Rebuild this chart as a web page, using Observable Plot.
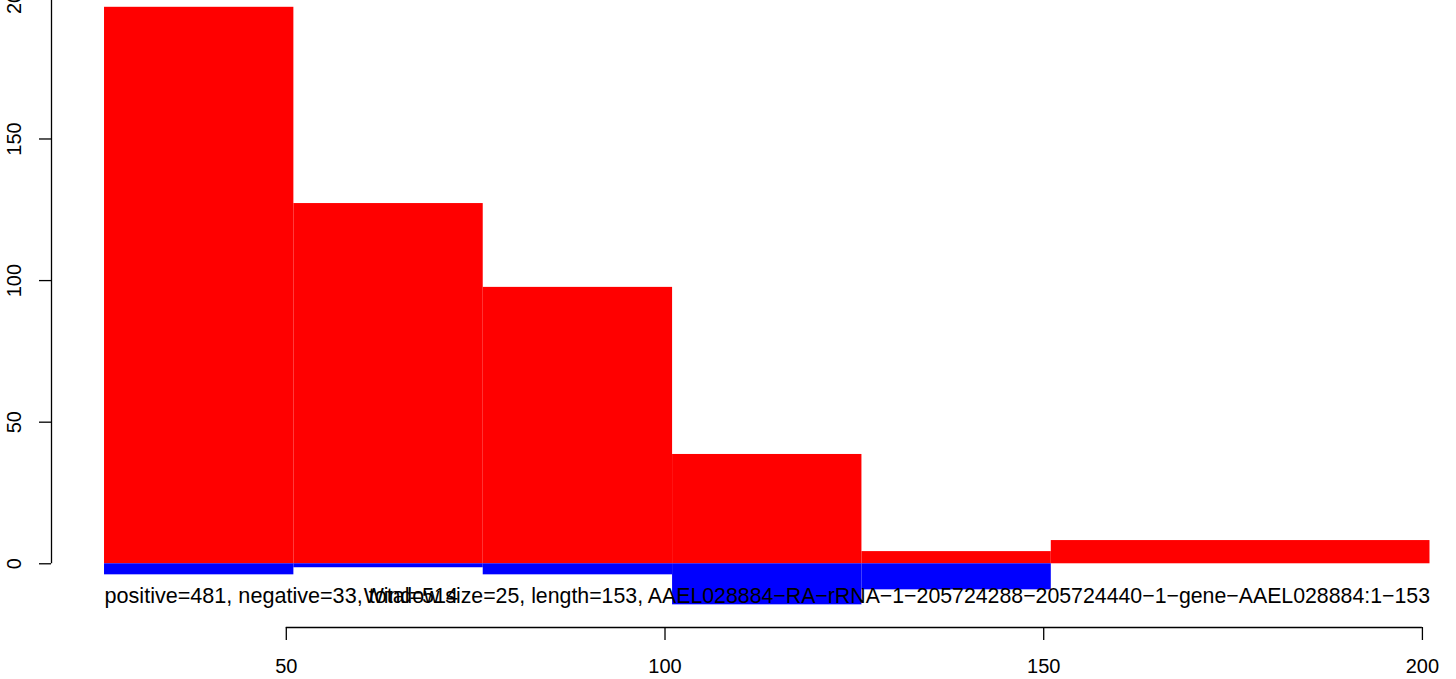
<!DOCTYPE html>
<html><head><meta charset="utf-8">
<script src="https://cdn.jsdelivr.net/npm/d3@7"></script>
<script src="https://cdn.jsdelivr.net/npm/@observablehq/plot@0.6"></script>
<style>
html,body{margin:0;padding:0;background:#fff;overflow:hidden}
#chart svg{overflow:visible;display:block}
</style></head><body><div id="chart"></div>
<script>
const binStart = [26, 51, 76, 101, 126, 151];
const binEnd = [51, 76, 101, 126, 151, 201];
const positiveValues = [196.5, 127.2, 97.6, 38.6, 4.3, 8.2];
const negativeValues = [-3.9, -1.4, -3.9, -14.5, -9.2, 0];
const xTicks = [50, 100, 150, 200];
const yTicks = [0, 50, 100, 150, 200];
const summaryText = "positive=481, negative=33, total=514";
const infoText = "Window size=25, length=153, AAEL028884\u2212RA\u2212rRNA\u22121\u2212205724288\u2212205724440\u22121\u2212gene\u2212AAEL028884:1\u2212153";

const bins = binStart.map((s, i) => ({x1: s, x2: binEnd[i], pos: positiveValues[i], neg: negativeValues[i]}));
const xDomain = [19, 204.5];
const yDomain = [-22.5, 198.9];
const font = "'Liberation Sans', Arial, Helvetica, sans-serif";

const plot = Plot.plot({
  width: 1456, height: 679,
  marginLeft: 51, marginRight: 0, marginTop: 0, marginBottom: 52,
  x: {domain: xDomain},
  y: {domain: yDomain},
  style: {fontFamily: font, fontSize: "20px", background: "white", overflow: "visible", color: "black"},
  marks: [
    Plot.rectY(bins, {x1: "x1", x2: "x2", y1: 0, y2: "pos", fill: "#ff0000"}),
    Plot.rectY(bins, {x1: "x1", x2: "x2", y1: 0, y2: "neg", fill: "#0000ff"}),
    Plot.text([summaryText], {x: binStart[0], y: -11.5, text: d => d, textAnchor: "start", lineAnchor: "middle", fontSize: 21.6, fill: "black"}),
    Plot.text([infoText], {x: binEnd[binEnd.length - 1], y: -11.5, text: d => d, textAnchor: "end", lineAnchor: "middle", fontSize: 21.3, fill: "black"}),
    // y axis
    Plot.ruleX([xDomain[0]], {y1: yTicks[0], y2: yTicks[yTicks.length - 1], stroke: "black", strokeWidth: 1.3}),
    Plot.axisY({ticks: yTicks, tickSize: 12, tickFormat: () => "", strokeWidth: 1.3}),
    Plot.text(yTicks, {y: d => d, text: d => String(d), frameAnchor: "left", dx: -37, rotate: -90, lineAnchor: "middle", textAnchor: "middle", fill: "black"}),
    // x axis
    Plot.ruleY([yDomain[0]], {x1: xTicks[0], x2: xTicks[xTicks.length - 1], stroke: "black", strokeWidth: 1.3}),
    Plot.axisX({ticks: xTicks, tickSize: 13, tickFormat: () => "", strokeWidth: 1.3}),
    Plot.text(xTicks, {x: d => d, text: d => String(d), frameAnchor: "bottom", dy: 39.5, lineAnchor: "middle", textAnchor: "middle", fill: "black"})
  ]
});
document.getElementById("chart").appendChild(plot);
</script></body></html>
